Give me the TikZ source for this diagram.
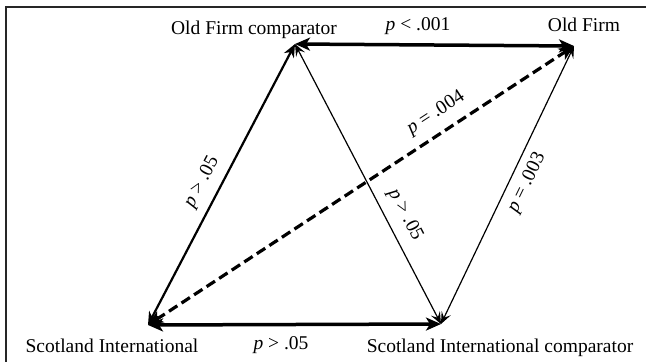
\documentclass[tikz,border=0pt]{standalone}
\usepackage{fontspec}
\setmainfont{Liberation Serif}
\usetikzlibrary{arrows.meta}
\begin{document}
\begin{tikzpicture}[x=1pt,y=-1pt,
  lbl/.style={font=\fontsize{19.5}{22}\selectfont, inner sep=0pt},
  heavy/.style={line width=3.5pt, {Stealth[length=15pt,width=13pt,inset=4pt]}-{Stealth[length=15pt,width=13pt,inset=4pt]}},
  medium/.style={line width=2.2pt, {Stealth[length=13pt,width=11pt,inset=4pt]}-{Stealth[length=13pt,width=11pt,inset=4pt]}},
  light/.style={line width=1.2pt, {Stealth[length=12pt,width=10pt,inset=5pt]}-{Stealth[length=12pt,width=10pt,inset=5pt]}},
  dashheavy/.style={line width=3.2pt, dash pattern=on 10pt off 5pt, {Stealth[length=15pt,width=13pt,inset=4pt]}-{Stealth[length=15pt,width=13pt,inset=4pt]}},
  frame/.style={line width=1.6pt, draw=black!85}
]
\useasboundingbox (0,0) rectangle (646,362);
\fill[white] (0,0) rectangle (646,362);
\coordinate (TL) at (6,7);
\coordinate (TR) at (646,7);
\coordinate (BL) at (6,362);
\draw[frame] (TR) -- (TL) -- (BL);

\coordinate (OFC) at (295,44);
\coordinate (OF) at (574,46);
\coordinate (SI) at (148,325);
\coordinate (SIC) at (441,324);

\node[lbl, anchor=base] (tOFC) at (254,34) {Old Firm comparator};
\node[lbl, anchor=base] (tOF) at (584,31) {Old Firm};
\node[lbl, anchor=base] (tSI) at (112,352) {Scotland International};
\node[lbl, anchor=base] (tSIC) at (500,352) {Scotland International comparator};

\draw[heavy] (OFC) -- (OF);
\draw[heavy] (SI) -- (SIC);
\draw[medium] (SI) -- (OFC);
\draw[light] (OFC) -- (SIC);
\draw[light] (SIC) -- (OF);
\draw[dashheavy] (SI) -- (OF);

\node[lbl, anchor=base] (l1) at (418,30) {\textit{p} < .001};
\node[lbl, anchor=base] (l2) at (281,349) {\textit{p} > .05};
\node[lbl, rotate=62] (l3) at (202,182) {\textit{p} > .05};
\node[lbl, rotate=-62.5] (l4) at (405,215) {\textit{p} > .05};
\node[lbl, rotate=33] (l5) at (436,113) {\textit{p} = .004};
\node[lbl, rotate=64] (l6) at (527,183) {\textit{p} = .003};
\end{tikzpicture}
\end{document}
